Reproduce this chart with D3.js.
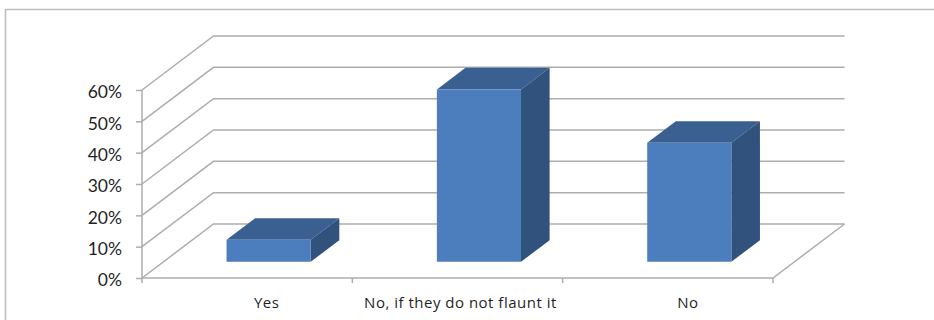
<!DOCTYPE html>
<html>
<head>
<meta charset="utf-8">
<script src="https://cdnjs.cloudflare.com/ajax/libs/d3/7.8.5/d3.min.js"></script>
<style>
  html, body { margin: 0; padding: 0; background: #fff; }
  svg { display: block; }
  text { font-family: Lato, "Open Sans", sans-serif; fill: #1f1f1f; }
  .domain { display: none; }
</style>
</head>
<body>
<svg id="chart" width="934" height="320"></svg>
<script>
const categories = ["Yes", "No, if they do not flaunt it", "No"];
const shares = [7, 55, 38];
const yTicks = [0, 10, 20, 30, 40, 50, 60];

const gridColor = "#adadad";
const faceColor = "#4c7ebd";
const topColor = "#3a6092";
const sideColor = "#31527d";

const svg = d3.select("#chart");

const x = d3.scaleBand().domain(categories).range([142, 773]).paddingInner(0.6).paddingOuter(0.3);
const y = d3.scaleLinear().domain([0, 60]).range([278, 90]);

// Oblique projection: depth 0 is the front of the floor, depth 1 the back wall.
const depthX = d3.scaleLinear().domain([0, 1]).range([0, 71.5]);
const depthY = d3.scaleLinear().domain([0, 1]).range([0, -54]);
const barFront = 0.3, barBack = 0.7;
const pt = (px, py, d) => [px + depthX(d), py + depthY(d)];
const poly = pts => pts.map(p => p.join(",")).join(" ");

// Outer chart frame: top and left edges
svg.append("path").attr("d", "M5.5,320V9.5H934")
  .attr("fill", "none").attr("stroke", "#bdbdbd").attr("stroke-width", 1.5);

const [x0, x1] = x.range();

// Back-wall gridlines with their returns along the left side wall
const grid = svg.append("g").attr("fill", "none").attr("stroke", gridColor).attr("stroke-width", 1.5);
yTicks.forEach(t => {
  const a = pt(x0, y(t), 0), b = pt(x0, y(t), 1), c = pt(x1, y(t), 1);
  grid.append("polyline").attr("points", poly([a, b, c]));
});

// Floor: front edge and right edge
grid.append("polyline").attr("points", poly([pt(x0, y(0), 0), pt(x1, y(0), 0), pt(x1, y(0), 1)]));

// Y axis with percent labels
const yAxis = svg.append("g").attr("transform", `translate(${x0},0)`)
  .call(d3.axisLeft(y).tickValues(yTicks).tickSize(6).tickPadding(14).tickFormat(d => d + "%"));
yAxis.selectAll("line").attr("stroke", gridColor).attr("stroke-width", 1.5);
yAxis.selectAll("text").attr("font-size", 17.5).attr("dy", "0.44em");
svg.append("line").attr("x1", x0).attr("x2", x0).attr("y1", y(60)).attr("y2", y(0) + 5)
  .attr("stroke", gridColor).attr("stroke-width", 1.5);

// Category boundary ticks on the floor edge
const step = x.step();
svg.append("g").selectAll("line").data(d3.range(1, categories.length + 1)).join("line")
  .attr("x1", i => x0 + i * step).attr("x2", i => x0 + i * step)
  .attr("y1", y(0)).attr("y2", y(0) + 5)
  .attr("stroke", gridColor).attr("stroke-width", 1.5);

// Category labels beneath the floor edge
const labelNudge = [-2, -18.5, -1.5];
const xAxis = svg.append("g").attr("transform", `translate(${depthX(barFront)},${y(0)})`)
  .call(d3.axisBottom(x).tickSize(0).tickPadding(19));
xAxis.selectAll("text").attr("font-size", 15)
  .style("font-family", "'Open Sans', sans-serif")
  .style("letter-spacing", "0.5px")
  .attr("dx", (d, i) => labelNudge[i]);

// Bars: top, side, then front face
const bars = svg.append("g").selectAll("g").data(categories).join("g");
const barLeft = d => x(d);
const barRight = d => x(d) + x.bandwidth();
const barTop = (d, i) => y(shares[i]);

bars.append("polygon").attr("fill", topColor).attr("points", (d, i) => poly([
  pt(barLeft(d), barTop(d, i), barFront), pt(barRight(d), barTop(d, i), barFront),
  pt(barRight(d), barTop(d, i), barBack), pt(barLeft(d), barTop(d, i), barBack)]));
bars.append("polygon").attr("fill", sideColor).attr("points", (d, i) => poly([
  pt(barRight(d), barTop(d, i), barFront), pt(barRight(d), y(0), barFront),
  pt(barRight(d), y(0), barBack), pt(barRight(d), barTop(d, i), barBack)]));
bars.append("polygon").attr("fill", faceColor).attr("points", (d, i) => poly([
  pt(barLeft(d), barTop(d, i), barFront), pt(barRight(d), barTop(d, i), barFront),
  pt(barRight(d), y(0), barFront), pt(barLeft(d), y(0), barFront)]));
</script>
</body>
</html>
